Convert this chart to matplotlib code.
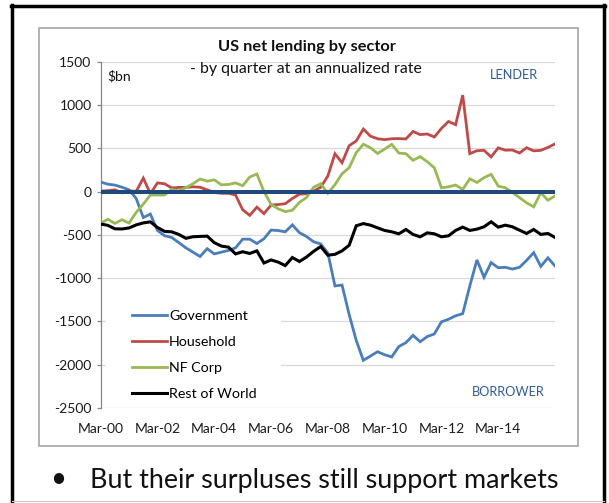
import matplotlib
matplotlib.use('Agg')
import matplotlib.pyplot as plt
from matplotlib.patches import Rectangle
from matplotlib.lines import Line2D
import numpy as np

plt.rcParams['font.family'] = ['Lato', 'DejaVu Sans']
plt.rcParams['axes.unicode_minus'] = False

# ---------------- data ----------------
months = ["Mar", "Jun", "Sep", "Dec"]
quarters = [f"{m}-{y:02d}" for y in range(0, 17) for m in months][:65]  # Mar-00 .. Mar-16
tick_labels = ["Mar-00", "Mar-02", "Mar-04", "Mar-06", "Mar-08", "Mar-10", "Mar-12", "Mar-14"]

government = [110, 85, 75, 50, 20, -80, -300, -260, -450, -510, -530, -590, -650, -700, -750, -660,
              -720, -700, -680, -650, -550, -550, -600, -545, -445, -450, -465, -385, -475, -520, -580, -605,
              -710, -1090, -1080, -1420, -1720, -1950, -1900, -1850, -1885, -1910, -1790, -1745, -1660, -1735, -1675, -1645,
              -1505, -1475, -1435, -1410, -1090, -790, -990, -820, -880, -875, -895, -875, -795, -705, -865, -765,
              -860]
household = [5, 10, 20, -15, 8, 2, 155, -25, 100, 90, 42, 48, 48, 55, 50, 20,
             -10, -20, -20, -40, -210, -275, -180, -255, -155, -150, -140, -80, -30, -25, 5, 50,
             180, 437, 333, 530, 585, 722, 640, 610, 600, 610, 612, 608, 694, 658, 665, 630,
             729, 810, 772, 1114, 438, 472, 476, 400, 505, 478, 480, 445, 507, 470, 476, 510,
             550]
nf_corp = [-365, -320, -368, -325, -364, -240, -145, -40, -40, -40, 25, 8, 45, 90, 145, 120,
           135, 78, 82, 100, 68, 168, 203, 0, -148, -199, -232, -215, -125, -68, 50, 90,
           -20, 80, 206, 275, 449, 546, 507, 440, 490, 545, 445, 437, 361, 403, 345, 275,
           44, 55, 75, 25, 148, 105, 160, 199, 64, 44, -10, -70, -130, -176, -14, -100,
           -50]
rest_of_world = [-375, -390, -430, -432, -420, -385, -362, -350, -415, -460, -465, -495, -540, -522, -518, -515,
                 -590, -630, -642, -720, -695, -715, -685, -825, -790, -815, -855, -762, -808, -756, -690, -635,
                 -735, -725, -685, -620, -395, -370, -388, -419, -449, -465, -488, -438, -495, -523, -477, -488,
                 -523, -511, -449, -411, -449, -434, -407, -349, -411, -388, -407, -446, -484, -438, -495, -484,
                 -530]

series_names = ["Government", "Household", "NF Corp", "Rest of World"]
series_values = [government, household, nf_corp, rest_of_world]
series_colors = ["#4A7EBB", "#BE4B48", "#98B954", "#000000"]
series_widths = [2.0, 2.0, 2.0, 2.2]

# ---------------- layout ----------------
W, H = 609, 503
def fx(px):
    return px / W
def fy(py):
    return 1 - py / H

fig = plt.figure(figsize=(W / 100, H / 100), dpi=100)
fig.patch.set_facecolor('white')

ax = fig.add_axes([fx(100.7), fy(408), fx(555) - fx(100.7), fy(61.7) - fy(408)])
x = np.arange(len(quarters))

ax.set_xlim(0, len(quarters) - 1)
ax.set_ylim(-2500, 1500)
ax.set_yticks(np.arange(-2500, 1501, 500))
ax.yaxis.grid(True, color='#D9D9D9', linewidth=0.9)
ax.set_axisbelow(True)
for s in ['top', 'right', 'bottom']:
    ax.spines[s].set_visible(False)
ax.spines['left'].set_color('#868686')
ax.spines['left'].set_linewidth(0.9)
ax.tick_params(axis='y', direction='out', length=3, width=0.9, color='#868686',
               labelsize=10, pad=3.6, labelcolor='#1a1a1a')
ax.set_xticks([quarters.index(l) for l in tick_labels])
ax.set_xticklabels(tick_labels)
ax.tick_params(axis='x', length=0, labelsize=10, pad=10.8, labelcolor='#1a1a1a')

# white legend background hiding gridlines
ax.add_patch(Rectangle((0.012, 0.017), 0.385, 0.324, transform=ax.transAxes,
                       facecolor='white', edgecolor='none', zorder=1))

handles = []
for name, vals, col, lw in zip(series_names, series_values, series_colors, series_widths):
    h, = ax.plot(x, vals, color=col, lw=lw, label=name, zorder=3, solid_joinstyle='miter')
    handles.append(h)

ax.axhline(0, color='#1F497D', lw=2.9, zorder=4)

ax.legend(handles=handles, loc='upper left', bbox_to_anchor=(0.069, 0.284),
          frameon=False, fontsize=10.3, handlelength=2.45, handletextpad=0.15,
          labelspacing=0.99, borderaxespad=0, borderpad=0)

# texts
fig.text(fx(306.5), fy(47.3), "US net lending by sector", ha='center', va='center',
         fontsize=11.8, fontweight='bold', color='#111111')
fig.text(fx(306.3), fy(69), "- by quarter at an annualized rate", ha='center', va='center',
         fontsize=11.4, color='#111111')
fig.text(fx(107.7), fy(76.7), "$bn", ha='left', va='center', fontsize=10, color='#111111',
         parse_math=False)
fig.text(fx(513.5), fy(75), "LENDER", ha='center', va='center', fontsize=9.2, color='#2E5C99')
fig.text(fx(508), fy(392.3), "BORROWER", ha='center', va='center', fontsize=9.2, color='#2E5C99')

fig.text(fx(58), fy(479), "\u2022", ha='center', va='center', fontsize=20, color='#111111')
fig.text(fx(90), fy(480.5), "But their surpluses still support markets", ha='left', va='center',
         fontsize=19.4, color='#111111')

# chart area border
fig.add_artist(Rectangle((fx(38.5), fy(446)), fx(578) - fx(38.5), fy(28) - fy(446),
                         transform=fig.transFigure, fill=False, edgecolor='#A6A6A6', lw=1.2))

# outer slide frame
fig.add_artist(Line2D([fx(11), fx(605)], [fy(5.5), fy(5.5)], transform=fig.transFigure,
                      color='black', lw=2.5))
fig.add_artist(Line2D([fx(12), fx(12)], [fy(5), fy(503)], transform=fig.transFigure,
                      color='black', lw=2.5))
fig.add_artist(Line2D([fx(604), fx(604)], [fy(5), fy(503)], transform=fig.transFigure,
                      color='black', lw=2.5))
fig.add_artist(Line2D([fx(12), fx(604)], [fy(501), fy(501)], transform=fig.transFigure,
                      color='#CCCCCC', lw=0.8))

fig.savefig("out.png", dpi=100)
